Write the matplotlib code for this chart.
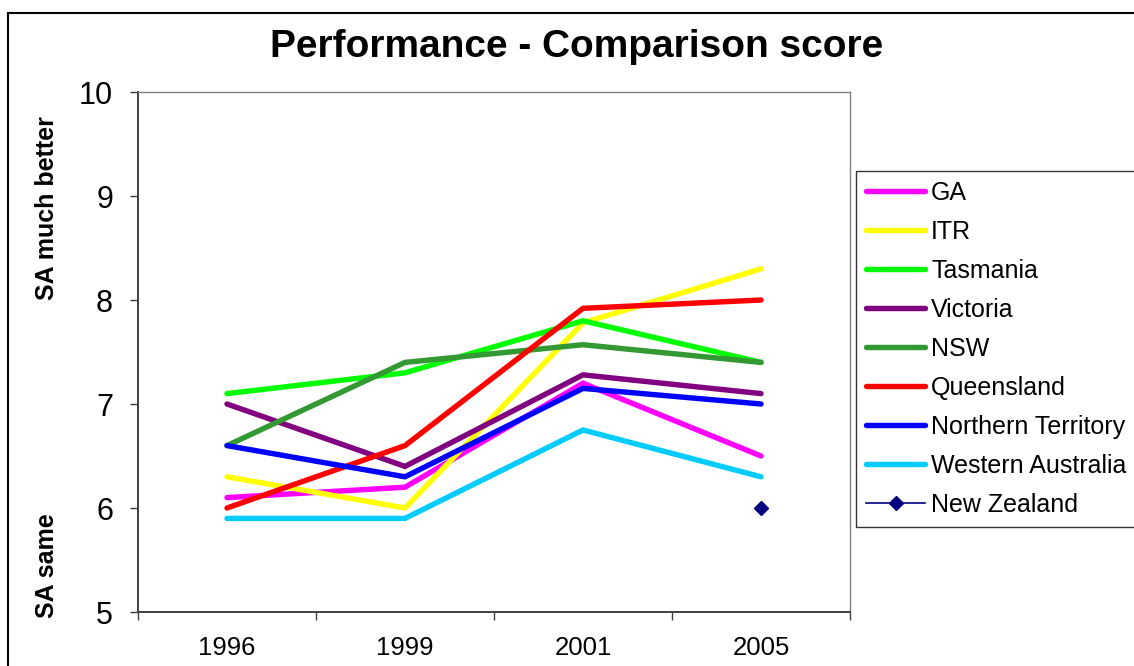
import matplotlib.pyplot as plt
from matplotlib.patches import Rectangle

plt.rcParams['font.family'] = ['Liberation Sans', 'DejaVu Sans']

years = ["1996", "1999", "2001", "2005"]

ga = [6.1, 6.2, 7.2, 6.5]
itr = [6.3, 6.0, 7.78, 8.3]
tasmania = [7.1, 7.3, 7.8, 7.4]
victoria = [7.0, 6.4, 7.28, 7.1]
nsw = [6.6, 7.4, 7.57, 7.4]
queensland = [6.0, 6.6, 7.92, 8.0]
northern_territory = [6.6, 6.3, 7.15, 7.0]
western_australia = [5.9, 5.9, 6.75, 6.3]
new_zealand = [None, None, None, 6.0]

series_names = ["GA", "ITR", "Tasmania", "Victoria", "NSW", "Queensland",
                "Northern Territory", "Western Australia"]
series_values = [ga, itr, tasmania, victoria, nsw, queensland,
                 northern_territory, western_australia]
series_colors = ["#FF00FF", "#FFFF00", "#00FF00", "#800080", "#339933",
                 "#FF0000", "#0000FF", "#00CCFF"]

fig = plt.figure(figsize=(11.34, 6.66), dpi=100)
ax = fig.add_axes([138 / 1134, 54 / 666, 712 / 1134, 520 / 666])

x = list(range(len(years)))
for name, vals, col in zip(series_names, series_values, series_colors):
    ax.plot(x, vals, color=col, lw=3.9, solid_capstyle='round',
            solid_joinstyle='miter', label=name)

# New Zealand only has one point
nz_x = [i for i, v in enumerate(new_zealand) if v is not None]
nz_y = [v for v in new_zealand if v is not None]
ax.plot(nz_x, nz_y, color="#000080", lw=1.2, marker='D', markersize=7,
        label="New Zealand")

ax.set_xlim(-0.5, len(years) - 0.5)
ax.set_ylim(5, 10)
ax.set_yticks([5, 6, 7, 8, 9, 10])
ax.set_xticks([i - 0.5 for i in range(len(years) + 1)])
ax.set_xticklabels([])
ax.set_xticks(x, minor=True)
ax.set_xticklabels(years, minor=True)
ax.tick_params(axis='x', which='major', direction='out', length=6,
               width=1, color='#404040')
ax.tick_params(axis='x', which='minor', length=0, pad=17, labelsize=18.5)
ax.tick_params(axis='y', direction='out', length=6, width=1,
               color='#404040', pad=12, labelsize=22)

for side in ['left', 'bottom']:
    ax.spines[side].set_color('#404040')
    ax.spines[side].set_linewidth(1.4)
for side in ['top', 'right']:
    ax.spines[side].set_color('#808080')
    ax.spines[side].set_linewidth(1.0)

fig.text(577 / 1134, 1 - 47 / 666, "Performance - Comparison score",
         ha='center', va='center', fontsize=28, fontweight='bold')
fig.text(47 / 1134, 1 - 208 / 666, "SA much better", rotation=90,
         ha='center', va='center', fontsize=18, fontweight='bold')
fig.text(47 / 1134, 1 - 566 / 666, "SA same", rotation=90,
         ha='center', va='center', fontsize=18, fontweight='bold')

leg = ax.legend(loc='upper left', bbox_to_anchor=(856 / 1134, 1 - 171 / 666),
                bbox_transform=fig.transFigure, fontsize=18, frameon=True,
                fancybox=False, borderaxespad=0, handlelength=2.36,
                handletextpad=0.24, labelspacing=0.6, borderpad=0.4)
leg.get_frame().set_edgecolor('black')
leg.get_frame().set_linewidth(1.0)

# outer chart border
fig.add_artist(Rectangle((8 / 1134, -0.1), 1.2, 1 - 13 / 666 + 0.1,
                         transform=fig.transFigure, fill=False,
                         edgecolor='black', lw=1.5))

fig.savefig("out.png", dpi=100)
